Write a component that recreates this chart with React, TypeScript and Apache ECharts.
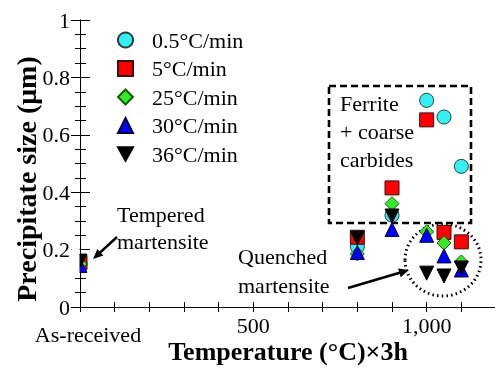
import React, { useEffect, useRef } from "react";
import * as echarts from "echarts";

// ---- data ----
const seriesNames = ["0.5°C/min", "5°C/min", "25°C/min", "30°C/min", "36°C/min"];
const temps = [0, 800, 900, 1000, 1050, 1100];
const size05 = [0.15, 0.21, 0.32, 0.72, 0.662, 0.49];
const size5 = [0.155, 0.243, 0.415, 0.652, 0.26, 0.227];
const size25 = [0.15, 0.185, 0.36, 0.262, 0.223, 0.157];
const size30 = [0.145, 0.19, 0.27, 0.25, 0.178, 0.129];
const size36 = [0.16, 0.24, 0.317, 0.118, 0.108, 0.136];
const xLabelValues = [0, 500, 1000];
const xLabelTexts = ["As-received", "500", "1,000"];

const FONT = "'Liberation Serif', 'Times New Roman', serif";

function arrow(x1: number, y1: number, x2: number, y2: number) {
  const dx = x2 - x1, dy = y2 - y1;
  const len = Math.sqrt(dx * dx + dy * dy);
  const ux = dx / len, uy = dy / len;
  const hl = 10, hw = 4.5;
  const bx = x2 - ux * hl, by = y2 - uy * hl;
  const px = -uy * hw, py = ux * hw;
  return [
    { type: "line", shape: { x1, y1, x2: bx + ux * 2, y2: by + uy * 2 }, style: { stroke: "#000", lineWidth: 2.6 }, z: 10 },
    { type: "polygon", shape: { points: [[x2, y2], [bx + px, by + py], [bx - px, by - py]] }, style: { fill: "#000" }, z: 10 },
  ];
}

export default function App() {
  const ref = useRef<HTMLDivElement>(null);
  useEffect(() => {
    if (!ref.current) return;
    const chart = echarts.init(ref.current, undefined, { renderer: "svg" });
    const mk = (vals: number[]) => temps.map((t, i) => [t, vals[i]]);
    const styles = [
      { symbol: "circle", color: "#33f0f5", border: "#2b3a3c" },
      { symbol: "rect", color: "#ff0000", border: "#3a1010" },
      { symbol: "diamond", color: "#33ee22", border: "#1c5a10" },
      { symbol: "triangle", color: "#0000ff", border: "#000033" },
      { symbol: "path://M0,0L10,0L5,9Z", color: "#000000", border: "#000000" },
    ];
    const all = [size05, size5, size25, size30, size36];
    const text = (t: string, x: number, y: number, lh: number) => ({
      type: "text",
      x,
      y,
      z: 10,
      style: { text: t, font: `22px ${FONT}`, fill: "#000", lineHeight: lh, verticalAlign: "top", align: "left" },
    });
    chart.setOption({
      animation: false,
      textStyle: { fontFamily: FONT },
      grid: { left: 80, top: 20, width: 416, height: 287, outerBoundsMode: "none", containLabel: false },
      legend: {
        orient: "vertical",
        left: 117,
        top: 29,
        padding: 0,
        itemWidth: 15,
        itemHeight: 15,
        itemGap: 6.5,
        data: seriesNames,
        textStyle: { fontFamily: FONT, fontSize: 22, color: "#000", lineHeight: 22, padding: [0, 0, 0, 14] },
      },
      xAxis: [
        {
          type: "value",
          min: 0,
          max: 1200,
          interval: 100,
          position: "bottom",
          name: "Temperature (°C)×3h",
          nameLocation: "middle",
          nameGap: 31,
          nameMoveOverlap: false,
          nameTextStyle: { fontFamily: FONT, fontSize: 26, fontWeight: "bold", color: "#000" },
          axisLine: { lineStyle: { color: "#000", width: 1 } },
          axisTick: { inside: true, length: 5, lineStyle: { color: "#000" } },
          splitLine: { show: false },
          axisLabel: {
            margin: 7,
            fontFamily: FONT,
            fontSize: 22,
            color: "#000",
            formatter: (v: number) => {
              const i = xLabelValues.indexOf(v);
              if (i < 0) return "";
              return i === 0 ? `{a|${xLabelTexts[i]}}` : xLabelTexts[i];
            },
            rich: { a: { fontFamily: FONT, fontSize: 22, color: "#000", padding: [9, 0, 0, 16] } },
          },
        },
        {
          type: "value",
          min: 0,
          max: 1200,
          interval: 100,
          position: "top",
          axisLine: { lineStyle: { color: "#000", width: 1 } },
          axisTick: { inside: true, length: 5, lineStyle: { color: "#000" } },
          splitLine: { show: false },
          axisLabel: { show: false },
        },
      ],
      yAxis: [
        {
          type: "value",
          min: 0,
          max: 1,
          interval: 0.2,
          position: "left",
          axisLine: { show: true, lineStyle: { color: "#000", width: 1 } },
          axisTick: { show: true, inside: true, length: 10, lineStyle: { color: "#000" } },
          minorTick: { show: true, splitNumber: 4, length: 6, lineStyle: { color: "#000" } },
          splitLine: { show: false },
          axisLabel: { margin: 10, fontFamily: FONT, fontSize: 22, color: "#000" },
        },
        {
          type: "value",
          min: 0,
          max: 1,
          interval: 0.2,
          position: "right",
          axisLine: { show: true, lineStyle: { color: "#000", width: 1 } },
          axisTick: { show: true, inside: true, length: 9, lineStyle: { color: "#000" } },
          minorTick: { show: true, splitNumber: 4, length: 5, lineStyle: { color: "#000" } },
          splitLine: { show: false },
          axisLabel: { show: false },
        },
      ],
      series: all.map((vals, k) => ({
        type: "scatter",
        name: seriesNames[k],
        xAxisIndex: 0,
        yAxisIndex: 0,
        data: mk(vals),
        symbol: styles[k].symbol,
        symbolSize: 14,
        itemStyle: { color: styles[k].color, borderColor: styles[k].border, borderWidth: 1, opacity: 1 },
        z: 2 + k,
      })),
      graphic: [
        // hide left half of the as-received markers (outside the plot frame)
        { type: "rect", shape: { x: 71.5, y: 245, width: 8, height: 32 }, style: { fill: "#fff" }, z: 50 },
        {
          type: "rect",
          shape: { x: 329, y: 86, width: 142, height: 137 },
          style: { fill: "none", stroke: "#000", lineWidth: 2.6, lineDash: [7, 4] },
          z: 1,
        },
        {
          type: "ellipse",
          shape: { cx: 443, cy: 260, rx: 38, ry: 36 },
          style: { fill: "none", stroke: "#000", lineWidth: 3, lineDash: [1.5, 3.2] },
          z: 1,
        },
        ...arrow(117, 237, 93, 259),
        ...arrow(348, 288, 409, 270),
        text("Tempered\nmartensite", 117, 200.5, 27),
        text("Quenched\nmartensite", 238, 241.5, 29),
        text("Ferrite\n+ coarse\ncarbides", 340, 89, 28),
        {
          type: "text",
          x: 26,
          y: 179,
          rotation: Math.PI / 2,
          z: 10,
          style: {
            text: "Precipitate size (μm)",
            font: `bold 28px ${FONT}`,
            fill: "#000",
            align: "center",
            verticalAlign: "middle",
          },
        },
      ],
    });
    return () => chart.dispose();
  }, []);
  return <div ref={ref} style={{ position: "fixed", left: 0, top: 0, width: 495, height: 368 }} />;
}
